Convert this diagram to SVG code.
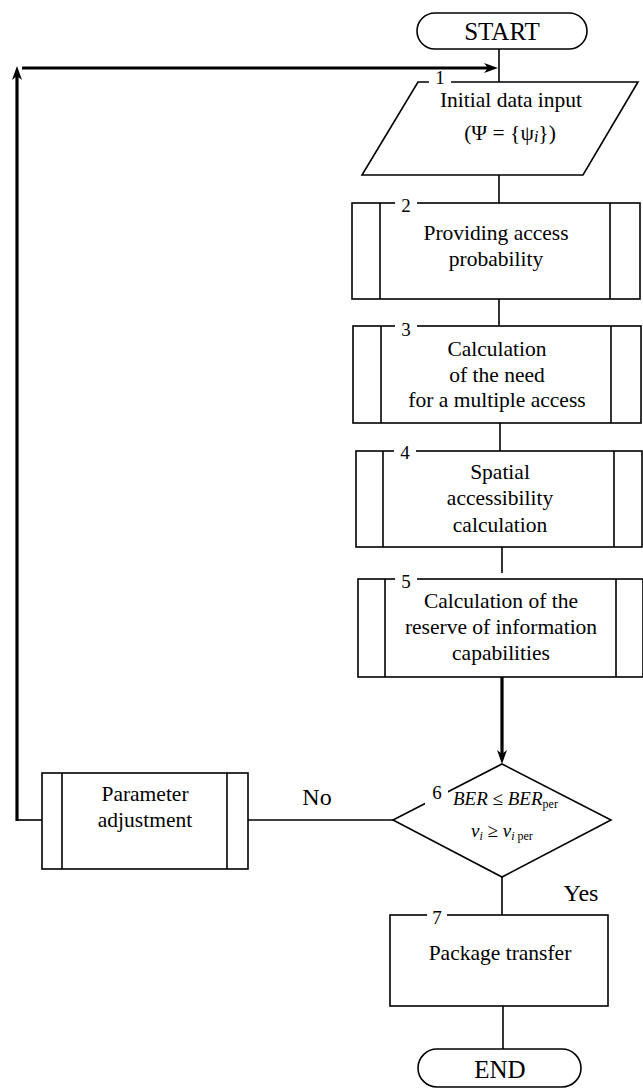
<svg xmlns="http://www.w3.org/2000/svg" width="643" height="1091" viewBox="0 0 643 1091">
<style>
.s{fill:#fff;stroke:#000;stroke-width:1.6}
.ln{fill:none;stroke:#000;stroke-width:1.6}
.th{fill:none;stroke:#000;stroke-width:3.2}
.t{font-family:"Liberation Serif","Times New Roman",serif;font-size:21.5px;fill:#000;text-anchor:middle}
.big{font-size:25px}
.lab{font-size:24px}
.n{font-family:"Liberation Serif","Times New Roman",serif;font-size:19px;fill:#000;text-anchor:middle}
.m{font-family:"Liberation Serif","Times New Roman",serif;font-size:19px;fill:#000;font-style:italic}
.gap{fill:#fff;stroke:none}
</style>
<defs>
<marker id="ah" viewBox="0 0 14 10" refX="4" refY="5" markerWidth="14" markerHeight="10" markerUnits="userSpaceOnUse" orient="auto">
<path d="M0,0 L14,5 L0,10 L4,5 z" fill="#000"/>
</marker>
</defs>
<g id="connectors">
<line class="ln" x1="499" y1="49" x2="499" y2="82"/>
<line class="ln" x1="499" y1="175" x2="499" y2="203"/>
<line class="ln" x1="499" y1="299" x2="499" y2="326"/>
<line class="ln" x1="500" y1="423" x2="500" y2="451"/>
<line class="ln" x1="502" y1="547" x2="502" y2="573"/>
<line class="th" x1="502" y1="677" x2="502" y2="754" marker-end="url(#ah)"/>
<line class="ln" x1="502" y1="877" x2="502" y2="915"/>
<line class="ln" x1="503" y1="1006" x2="503" y2="1049"/>
<line class="ln" x1="248" y1="820" x2="393" y2="820"/>
<line class="ln" x1="17" y1="820" x2="42" y2="820"/>
<line class="th" x1="17" y1="821" x2="17" y2="76" marker-end="url(#ah)"/>
<line class="th" x1="22" y1="68" x2="488" y2="68" marker-end="url(#ah)"/>
<text class="t lab" x="317" y="805">No</text>
<text class="t lab" x="581" y="901">Yes</text>
</g>
<g id="start">
<rect class="s" x="417" y="13" width="170" height="36" rx="18"/>
<text class="t big" x="502" y="40">START</text>
</g>
<g id="n1">
<polygon class="s" points="418,82 638,82 583,175 362,175"/>
<rect class="gap" x="429" y="79" width="22" height="6"/>
<text class="n" x="440" y="84">1</text>
<text class="t" x="511" y="107">Initial data input</text>
<text class="t" x="510" y="140">(Ψ = {ψ<tspan font-style="italic" font-size="16" dy="2">i</tspan><tspan dy="-2">})</tspan></text>
</g>
<g id="n2">
<rect class="s" x="352" y="203" width="288" height="96"/>
<line class="ln" x1="380" y1="203" x2="380" y2="299"/>
<line class="ln" x1="610" y1="203" x2="610" y2="299"/>
<rect class="gap" x="395" y="200" width="22" height="6"/>
<text class="n" x="406" y="212">2</text>
<text class="t" x="496" y="240">Providing access</text>
<text class="t" x="496" y="266">probability</text>
</g>
<g id="n3">
<rect class="s" x="353" y="326" width="288" height="97"/>
<line class="ln" x1="381" y1="326" x2="381" y2="423"/>
<line class="ln" x1="611" y1="326" x2="611" y2="423"/>
<rect class="gap" x="395" y="323" width="22" height="6"/>
<text class="n" x="406" y="336">3</text>
<text class="t" x="497" y="356">Calculation</text>
<text class="t" x="497" y="382">of the need</text>
<text class="t" x="497" y="407">for a multiple access</text>
</g>
<g id="n4">
<rect class="s" x="356" y="451" width="286" height="96"/>
<line class="ln" x1="383" y1="451" x2="383" y2="547"/>
<line class="ln" x1="614" y1="451" x2="614" y2="547"/>
<rect class="gap" x="394" y="448" width="22" height="6"/>
<text class="n" x="405" y="459">4</text>
<text class="t" x="500" y="479">Spatial</text>
<text class="t" x="500" y="505">accessibility</text>
<text class="t" x="500" y="532">calculation</text>
</g>
<g id="n5">
<rect class="s" x="358" y="579" width="285" height="98"/>
<line class="ln" x1="385" y1="579" x2="385" y2="677"/>
<line class="ln" x1="616" y1="579" x2="616" y2="677"/>
<rect class="gap" x="395" y="576" width="22" height="6"/>
<text class="n" x="406" y="588">5</text>
<text class="t" x="501" y="608">Calculation of the</text>
<text class="t" x="501" y="634">reserve of information</text>
<text class="t" x="501" y="660">capabilities</text>
</g>
<g id="n6">
<polygon class="s" points="502,764 611,820 502,877 393,820"/>
<rect class="gap" x="425" y="784" width="23" height="21"/>
<text class="n" x="437" y="799">6</text>
<text class="m" x="453" y="805">BER <tspan font-style="normal">≤</tspan> BER<tspan font-style="normal" font-size="12" dy="3">per</tspan></text>
<text class="m" x="471" y="837">v<tspan font-size="12" dy="3">i</tspan><tspan font-style="normal" dy="-3"> ≥ </tspan>v<tspan font-size="12" dy="3">i</tspan><tspan font-style="normal" font-size="12"> per</tspan></text>
</g>
<g id="n7">
<rect class="s" x="390" y="915" width="218" height="91"/>
<rect class="gap" x="427" y="912" width="20" height="6"/>
<text class="n" x="437" y="924">7</text>
<text class="t" x="500" y="960">Package transfer</text>
</g>
<g id="param">
<rect class="s" x="42" y="773" width="206" height="96"/>
<line class="ln" x1="62" y1="773" x2="62" y2="869"/>
<line class="ln" x1="227" y1="773" x2="227" y2="869"/>
<text class="t" x="145" y="801">Parameter</text>
<text class="t" x="145" y="827">adjustment</text>
</g>
<g id="end">
<rect class="s" x="418" y="1049" width="163" height="38" rx="19"/>
<text class="t big" x="500" y="1078">END</text>
</g>
</svg>
